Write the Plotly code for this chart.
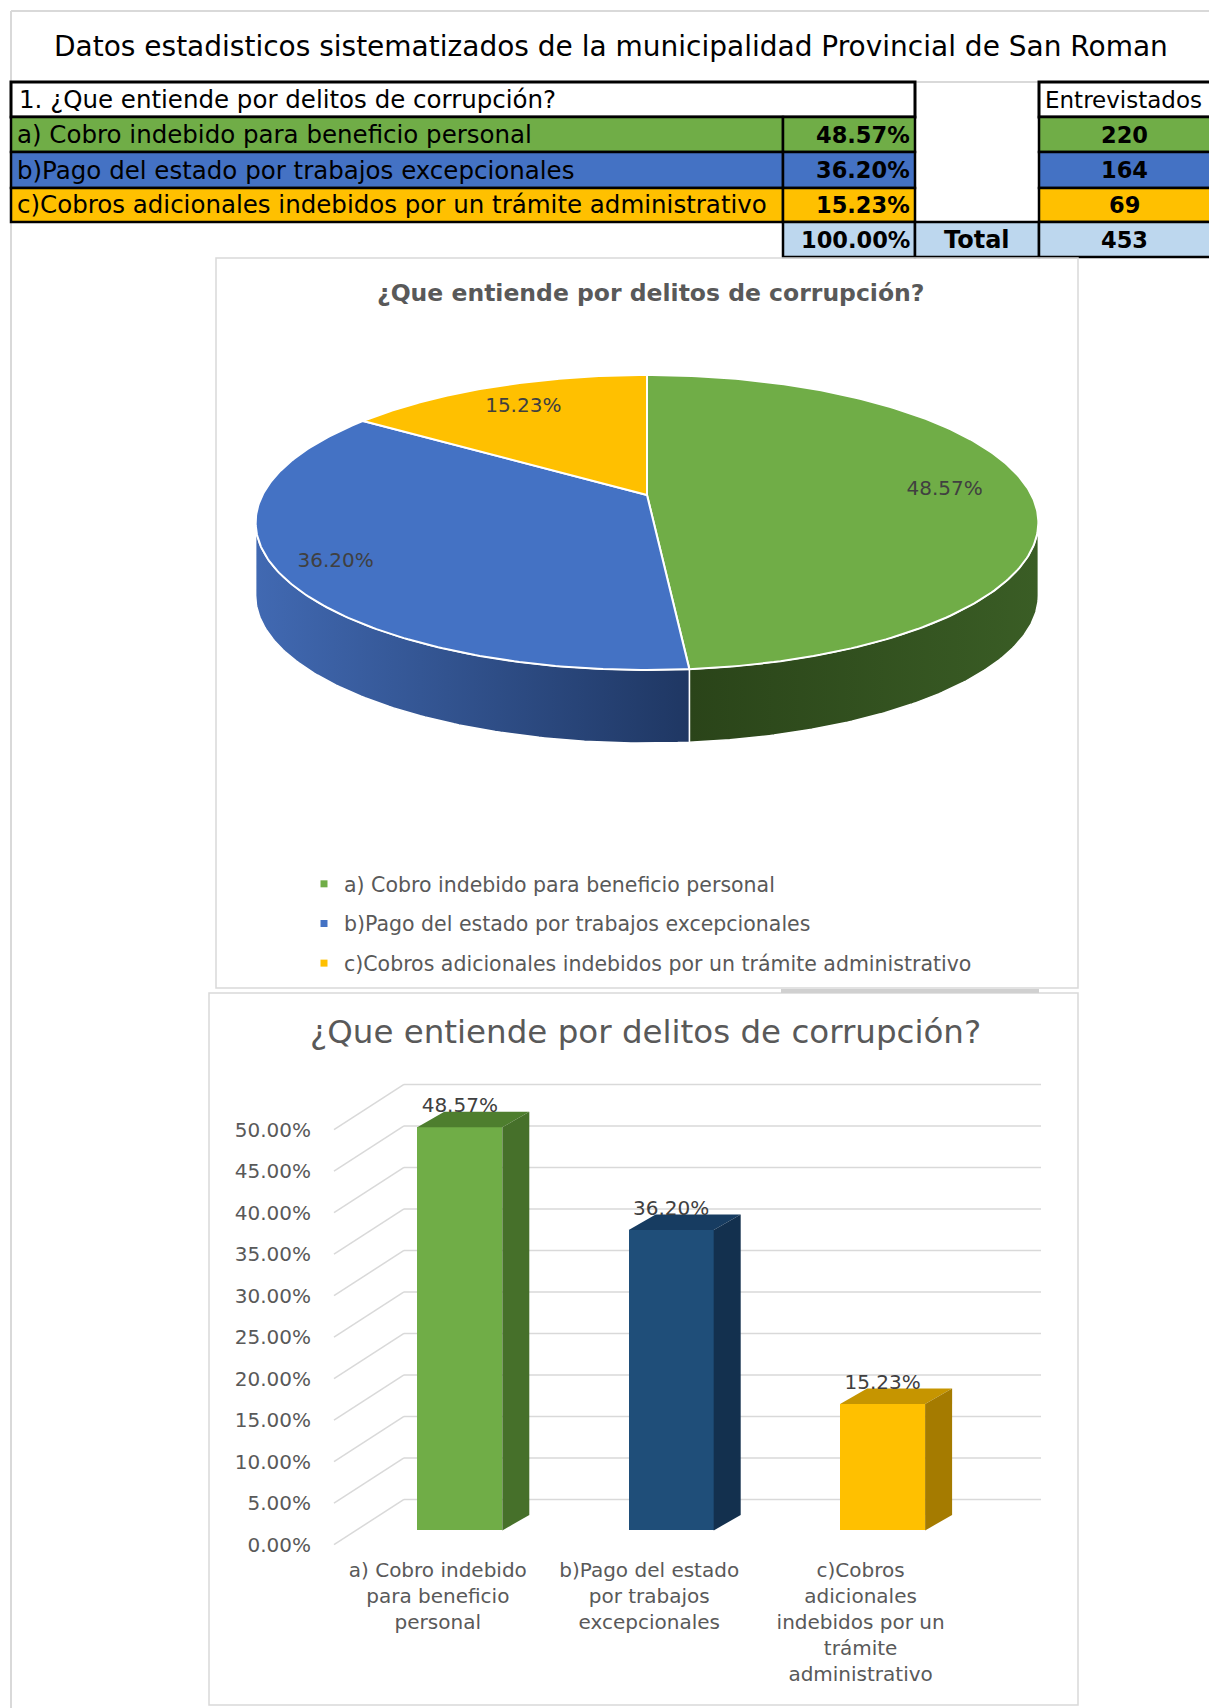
import math
import textwrap
import numpy as np
import plotly.graph_objects as go

# ---------------- data ----------------
page_title = "Datos estadisticos sistematizados de la municipalidad Provincial de San Roman"
question = "1. ¿Que entiende por delitos de corrupción?"
chart_title = "¿Que entiende por delitos de corrupción?"
categories = [
    "a) Cobro indebido para beneficio personal",
    "b)Pago del estado por trabajos excepcionales",
    "c)Cobros adicionales indebidos por un trámite administrativo",
]
percentages = [48.57, 36.20, 15.23]
counts = [220, 164, 69]
count_header = "Entrevistados"
total_label = "Total"
y_ticks = [0, 5, 10, 15, 20, 25, 30, 35, 40, 45, 50]

# ---------------- style ----------------
cat_colors = ["#70AD47", "#4472C4", "#FFC000"]
pie_side = [("#2A4419", "#3A5D25"), ("#4169B2", "#1F3763"), ("#B38600", "#B38600")]
bar_front = ["#70AD47", "#1F4E79", "#FFC000"]
bar_top = ["#4E7E2E", "#173C61", "#C69500"]
bar_side = ["#46702A", "#13304E", "#A57B00"]
TOTAL_FILL = "#BDD7EE"
GRID = "#D9D9D9"
FONT = "DejaVu Sans"
TXT = "#595959"
LBL = "#404040"

W, H = 1209, 1708


def px(x):
    return x / W


def py(y):
    return 1 - y / H


fig = go.Figure()
shapes = []
annotations = []


def ann(text, x, y, size, color="#000000", xanchor="center", bold=False):
    annotations.append(dict(
        text=text, x=px(x), y=py(y), xref="paper", yref="paper", showarrow=False,
        xanchor=xanchor, yanchor="middle",
        font=dict(family=FONT, size=size, color=color, weight="bold" if bold else "normal"),
    ))


def rect(x0, x1, y0, y1, fill="rgba(0,0,0,0)", color="#000000", width=2.5):
    shapes.append(dict(type="rect", xref="paper", yref="paper",
                       x0=px(x0), x1=px(x1), y0=py(y1), y1=py(y0),
                       fillcolor=fill, line=dict(color=color, width=width), layer="above"))


# ---------------- page frame ----------------
shapes.append(dict(type="line", xref="paper", yref="paper", x0=px(11), x1=px(W), y0=py(11), y1=py(11),
                   line=dict(color=GRID, width=2)))
shapes.append(dict(type="line", xref="paper", yref="paper", x0=px(11), x1=px(11), y0=py(11), y1=py(H),
                   line=dict(color=GRID, width=2)))
ann(page_title, 611, 47, 28)

# ---------------- table ----------------
C = [11, 783, 915, 1039, 1215]
R = [82, 117, 152, 188, 222, 257]
TFS = 24.5
BFS = 22.5
shapes.append(dict(type="line", xref="paper", yref="paper", x0=px(C[2]), x1=px(C[3]), y0=py(R[0]), y1=py(R[0]),
                   line=dict(color=GRID, width=2)))
rect(C[0], C[2], R[0], R[1], fill="#FFFFFF", width=3)
ann(question, C[0] + 6, (R[0] + R[1]) / 2, TFS, xanchor="left")
rect(C[3], C[4], R[0], R[1], fill="#FFFFFF", width=3)
ann(count_header, C[3] + 4, (R[0] + R[1]) / 2, 23, xanchor="left")
count_cx = (C[3] + W) / 2
for i, (cat, p, n) in enumerate(zip(categories, percentages, counts)):
    r0, r1 = R[i + 1], R[i + 2]
    ym = (r0 + r1) / 2
    rect(C[0], C[1], r0, r1, fill=cat_colors[i])
    ann(cat, C[0] + 4, ym, TFS, xanchor="left")
    rect(C[1], C[2], r0, r1, fill=cat_colors[i])
    ann(f"{p:.2f}%", C[2] - 3, ym, BFS, xanchor="right", bold=True)
    rect(C[3], C[4], r0, r1, fill=cat_colors[i])
    ann(str(n), count_cx, ym, BFS, bold=True)
ym = (R[4] + R[5]) / 2
rect(C[1], C[2], R[4], R[5], fill=TOTAL_FILL)
ann(f"{sum(percentages):.2f}%", C[2] - 3, ym, BFS, xanchor="right", bold=True)
rect(C[2], C[3], R[4], R[5], fill=TOTAL_FILL)
ann(total_label, (C[2] + C[3]) / 2, ym, 24, bold=True)
rect(C[3], C[4], R[4], R[5], fill=TOTAL_FILL)
ann(str(sum(counts)), count_cx, ym, BFS, bold=True)

# ---------------- pie chart box ----------------
rect(216, 1078, 258, 988, color=GRID, width=1.5)
ann(chart_title, 650, 293, 23.5, color=TXT, bold=True)

# perspective projection of the pie disc (pixel space)
CX, CY, A, B, K, DEPTH = 647, 495, 384.5, 142.4, 0.1864, 73


def proj(u, v):
    w = 1 + K * v
    return CX + A * u / w, CY - B * v / w


t_right = -math.asin(K)
t_left = -math.pi + math.asin(K)
starts = []
acc = 0.0
for p in percentages:
    t0 = math.pi / 2 - 2 * math.pi * acc / 100
    t1 = t0 - 2 * math.pi * p / 100
    starts.append((t0, t1))
    acc += p

# sides
for i, (t0, t1) in enumerate(starts):
    a, b = min(t0, t_right), max(t1, t_left)
    if a <= b:
        continue
    ts = np.linspace(a, b, 120)
    top = [proj(math.cos(t), math.sin(t)) for t in ts]
    xs = [q[0] for q in top] + [q[0] for q in top[::-1]] + [top[0][0]]
    ys = [q[1] for q in top] + [q[1] + DEPTH for q in top[::-1]] + [top[0][1]]
    fig.add_trace(go.Scatter(
        x=xs, y=ys, mode="lines", fill="toself", fillcolor=pie_side[i][1],
        fillgradient=dict(type="horizontal", colorscale=[[0, pie_side[i][0]], [1, pie_side[i][1]]],
                          start=min(xs), stop=max(xs)),
        line=dict(color="#FFFFFF", width=1.5), hoverinfo="skip", showlegend=False,
        xaxis="x", yaxis="y"))

# top faces
for i, (t0, t1) in enumerate(starts):
    ts = np.linspace(t0, t1, 200)
    pts = [proj(0, 0)] + [proj(math.cos(t), math.sin(t)) for t in ts] + [proj(0, 0)]
    fig.add_trace(go.Scatter(
        x=[q[0] for q in pts], y=[q[1] for q in pts], mode="lines", fill="toself",
        fillcolor=cat_colors[i], line=dict(color="#FFFFFF", width=2),
        hoverinfo="skip", showlegend=False, xaxis="x", yaxis="y"))

# pie labels
label_r = [0.78, 0.86, 0.79]
lx, ly, lt = [], [], []
for (t0, t1), p, r in zip(starts, percentages, label_r):
    tm = (t0 + t1) / 2
    q = proj(r * math.cos(tm), r * math.sin(tm))
    lx.append(q[0]); ly.append(q[1]); lt.append(f"{p:.2f}%")
fig.add_trace(go.Scatter(x=lx, y=ly, text=lt, mode="text", textposition="middle center",
                         textfont=dict(family=FONT, size=20, color=LBL), cliponaxis=False,
                         hoverinfo="skip", showlegend=False, xaxis="x", yaxis="y"))

# legend entries
for i, cat in enumerate(categories):
    fig.add_trace(go.Scatter(x=[None], y=[None], mode="markers", name=cat, legendgroup=f"g{i}",
                             marker=dict(symbol="square", size=7, color=cat_colors[i]),
                             xaxis="x", yaxis="y"))

# ---------------- bar chart box ----------------
rect(209, 1078, 993, 1705, color=GRID, width=1.5)
shapes.append(dict(type="line", xref="paper", yref="paper", x0=px(781), x1=px(1039), y0=py(991), y1=py(991),
                   line=dict(color="#D0D0D0", width=4)))
ann(chart_title, 645, 1032, 32.5, color=TXT)

# bar-plane scale (pixels)
BX0, BSX = 459.8, 211.4      # px of category 0, px per category
BY0, BSY = 1530.4, 8.3       # px of 0 %, px per 1 %
DOM_X = (312, 1060)
DOM_Y = (1060, 1556)
x2_range = [(DOM_X[0] - BX0) / BSX, (DOM_X[1] - BX0) / BSX]
y2_range = [(BY0 - DOM_Y[1]) / BSY, (BY0 - DOM_Y[0]) / BSY]
FRONT_DX, FRONT_DY = -22, 14.2   # front floor edge offset (px)
WALL_DX, WALL_DY = 48, -31       # back wall offset (px)
FLOOR_X, WALL_X0, WALL_X1 = 334, 404, 1041
x3_range = [r - FRONT_DX / BSX for r in x2_range]
y3_range = [r + FRONT_DY / BSY for r in y2_range]


def bx(p):
    return (p - BX0) / BSX


# grid (wall lines + floor diagonals)
for v in y_ticks:
    y_floor = v - FRONT_DY / BSY
    y_wall = v - WALL_DY / BSY
    shapes.append(dict(type="line", xref="x2", yref="y2", x0=bx(FLOOR_X), y0=y_floor, x1=bx(WALL_X0), y1=y_wall,
                       line=dict(color=GRID, width=1.5), layer="below"))
    shapes.append(dict(type="line", xref="x2", yref="y2", x0=bx(WALL_X0), y0=y_wall, x1=bx(WALL_X1), y1=y_wall,
                       line=dict(color=GRID, width=1.5), layer="below"))

idx = list(range(len(categories)))
BW = 85 / BSX
DDX, DDY = 27 / BSX, 15.4 / BSY
fig.add_trace(go.Bar(x=idx, y=percentages, width=BW, marker=dict(color=bar_front, line=dict(width=0)),
                     hoverinfo="skip", showlegend=False, xaxis="x2", yaxis="y2"))
for i, v in zip(idx, percentages):
    hw = BW / 2
    fig.add_trace(go.Scatter(
        x=[i - hw, i + hw, i + hw + DDX, i - hw + DDX, i - hw],
        y=[v, v, v + DDY, v + DDY, v], mode="lines", fill="toself", fillcolor=bar_top[i],
        line=dict(width=0, color=bar_top[i]), hoverinfo="skip", showlegend=False, xaxis="x2", yaxis="y2"))
    fig.add_trace(go.Scatter(
        x=[i + hw, i + hw, i + hw + DDX, i + hw + DDX, i + hw],
        y=[0, v, v + DDY, DDY, 0], mode="lines", fill="toself", fillcolor=bar_side[i],
        line=dict(width=0, color=bar_side[i]), hoverinfo="skip", showlegend=False, xaxis="x2", yaxis="y2"))
fig.add_trace(go.Scatter(x=idx, y=[v + 20 / BSY for v in percentages], text=[f"{v:.2f}%" for v in percentages],
                         mode="text", textposition="middle center", cliponaxis=False,
                         textfont=dict(family=FONT, size=20, color=LBL), hoverinfo="skip",
                         showlegend=False, xaxis="x2", yaxis="y2"))
# front-floor axes carrying the tick labels
fig.add_trace(go.Scatter(x=[None], y=[None], mode="markers", showlegend=False, hoverinfo="skip",
                         xaxis="x3", yaxis="y3"))

wrapped = ["<br>".join(textwrap.wrap(c, 17)) for c in categories]

fig.update_layout(
    width=W, height=H, margin=dict(l=0, r=0, t=0, b=0),
    paper_bgcolor="#FFFFFF", plot_bgcolor="rgba(0,0,0,0)",
    shapes=shapes, annotations=annotations, bargap=0,
    xaxis=dict(domain=[px(216), px(1078)], range=[216, 1078], visible=False, fixedrange=True),
    yaxis=dict(domain=[py(988), py(258)], range=[988, 258], visible=False, fixedrange=True),
    xaxis2=dict(domain=[px(DOM_X[0]), px(DOM_X[1])], range=x2_range, visible=False, anchor="y2"),
    yaxis2=dict(domain=[py(DOM_Y[1]), py(DOM_Y[0])], range=y2_range, visible=False, anchor="x2"),
    xaxis3=dict(overlaying="x2", anchor="y3", range=x3_range, tickmode="array", tickvals=idx,
                ticktext=wrapped, ticks="", showgrid=False, zeroline=False, showline=False,
                tickfont=dict(family=FONT, size=20, color=TXT)),
    yaxis3=dict(overlaying="y2", anchor="x3", range=y3_range, tickmode="array", tickvals=y_ticks,
                ticktext=[f"{v:.2f}%" for v in y_ticks], ticks="", showgrid=False, zeroline=False,
                showline=False, tickfont=dict(family=FONT, size=20, color=TXT)),
    showlegend=True,
    legend=dict(x=px(304), y=py(864), xanchor="left", yanchor="top", bgcolor="rgba(0,0,0,0)",
                font=dict(family=FONT, size=20.5, color=TXT), tracegroupgap=10, itemclick=False),
)

fig.write_html("out.html", config={"displayModeBar": False},
               post_script="document.body.style.margin='0';")
